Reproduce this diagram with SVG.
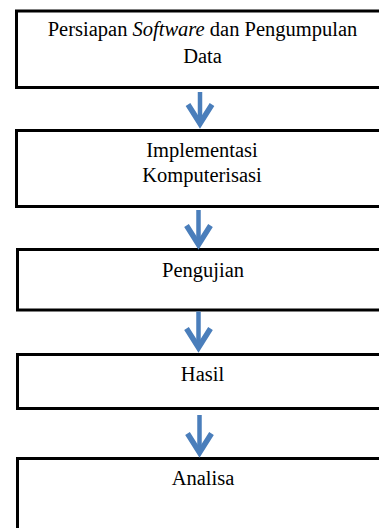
<svg xmlns="http://www.w3.org/2000/svg" width="379" height="528" viewBox="0 0 379 528">
<style>
.box{fill:#fff;stroke:#000;stroke-width:3}
.lbl{font-family:"Liberation Serif",serif;font-size:20.5px;fill:#000;text-anchor:middle}
.conn{stroke:#4a7ebb;stroke-width:4.5;fill:none}
</style>
<defs>
<marker id="ah" markerUnits="userSpaceOnUse" viewBox="-26 -16 32 32" markerWidth="32" markerHeight="32" refX="0" refY="0" orient="auto">
<path d="M-19,-12 L0,0 L-19,12" fill="none" stroke="#4a7ebb" stroke-width="5.5"/>
</marker>
</defs>
<rect width="379" height="528" fill="#fff"/>
<g id="n1"><rect class="box" x="16.5" y="11" width="400" height="76.5"/>
<text class="lbl" x="202.5" y="36">Persiapan <tspan font-style="italic">Software</tspan> dan Pengumpulan</text>
<text class="lbl" x="202.5" y="63">Data</text></g>
<g id="n2"><rect class="box" x="16.5" y="130.5" width="400" height="76"/>
<text class="lbl" x="202" y="157">Implementasi</text>
<text class="lbl" x="202" y="182">Komputerisasi</text></g>
<g id="n3"><rect class="box" x="17.5" y="249.5" width="400" height="60.5"/>
<text class="lbl" x="203" y="276.5">Pengujian</text></g>
<g id="n4"><rect class="box" x="17.5" y="354.5" width="400" height="54"/>
<text class="lbl" x="202.5" y="380.5">Hasil</text></g>
<g id="n5"><rect class="box" x="17.5" y="458.5" width="400" height="120"/>
<text class="lbl" x="203" y="485">Analisa</text></g>
<g id="connectors">
<line class="conn" x1="200" y1="92" x2="200" y2="123.5" marker-end="url(#ah)"/>
<line class="conn" x1="198.5" y1="210" x2="198.5" y2="244.5" marker-end="url(#ah)"/>
<line class="conn" x1="198.5" y1="311.5" x2="198.5" y2="347.5" marker-end="url(#ah)"/>
<line class="conn" x1="199.5" y1="415" x2="199.5" y2="452.5" marker-end="url(#ah)"/>
</g>
</svg>
